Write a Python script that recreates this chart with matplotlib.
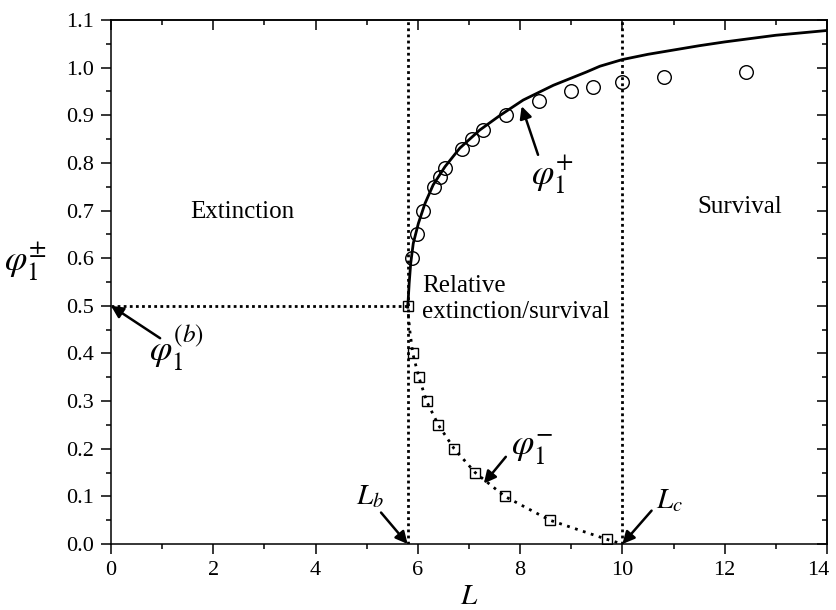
import numpy as np
from matplotlib import pyplot as plt
from matplotlib.ticker import MultipleLocator
from matplotlib.transforms import ScaledTranslation

plt.rcParams["font.family"] = "serif"
plt.rcParams["font.serif"] = ["Liberation Serif", "DejaVu Serif"]
plt.rcParams["mathtext.fontset"] = "stix"

# Threshold values
L_b = 5.8
L_c = 10.0
phi_b = 0.5

# Simulation points, upper branch (circles)
L_plus = [5.88, 5.98, 6.11, 6.32, 6.43, 6.54, 6.86, 7.05, 7.28, 7.72, 8.36, 8.99, 9.42, 10.0, 10.82, 12.41]
phi_plus = [0.60, 0.65, 0.70, 0.75, 0.77, 0.79, 0.83, 0.85, 0.87, 0.90, 0.93, 0.95, 0.96, 0.97, 0.98, 0.99]

# Simulation points, lower branch (squares)
L_minus = [5.81, 5.90, 6.02, 6.17, 6.40, 6.71, 7.12, 7.70, 8.58, 9.69]
phi_minus = [0.50, 0.40, 0.35, 0.30, 0.25, 0.20, 0.15, 0.10, 0.05, 0.01]

# Theory, upper branch
L_theory_plus = [5.80, 5.81, 5.83, 5.86, 5.91, 6.01, 6.14, 6.30, 6.53, 6.82, 7.21, 7.61, 8.06, 8.65,
                 9.30, 9.56, 10.0, 10.5, 11.0, 11.5, 12.0, 12.5, 13.0, 13.5, 14.0]
phi_theory_plus = [0.500, 0.510, 0.547, 0.589, 0.631, 0.673, 0.715, 0.754, 0.792, 0.831, 0.869, 0.900, 0.932, 0.963,
                   0.991, 1.003, 1.017, 1.028, 1.037, 1.046, 1.054, 1.061, 1.068, 1.073, 1.078]

# Theory, lower branch
L_theory_minus = [5.80, 5.84, 5.90, 6.02, 6.17, 6.40, 6.71, 7.12, 7.70, 8.58, 9.69, 10.0]
phi_theory_minus = [0.50, 0.45, 0.40, 0.35, 0.30, 0.25, 0.20, 0.15, 0.10, 0.05, 0.01, 0.0]

dots = (0, (1, 1.2))

fig = plt.figure(figsize=(8.36, 6.10), dpi=100)
ax = fig.add_axes([0.1328, 0.1082, 0.8564, 0.8590])

# Region boundaries
ax.plot([L_b, L_b], [0, 1.1], color="black", lw=2.0, linestyle=dots)
ax.plot([L_c, L_c], [0, 1.1], color="black", lw=2.0, linestyle=dots)
ax.plot([0, L_b], [phi_b, phi_b], color="black", lw=2.0, linestyle=dots)

# Theory curves
ax.plot(L_theory_plus, phi_theory_plus, color="black", lw=2.0)
ax.plot(L_theory_minus, phi_theory_minus, color="black", lw=2.0, linestyle=(0, (1, 2)))

# Simulation
ax.plot(L_plus, phi_plus, "o", mfc="none", mec="black", ms=9.8, mew=1.0)
ax.plot(L_minus, phi_minus, "s", mfc="none", mec="black", ms=7.4, mew=1.0)

ax.set_xlim(0, 14)
ax.set_ylim(0, 1.1)
ax.xaxis.set_major_locator(MultipleLocator(2))
ax.xaxis.set_minor_locator(MultipleLocator(1))
ax.yaxis.set_major_locator(MultipleLocator(0.1))
ax.yaxis.set_minor_locator(MultipleLocator(0.05))
ax.yaxis.set_major_formatter(plt.FormatStrFormatter("%.1f"))

ax.tick_params(which="both", direction="out", top=False, right=False, width=1.1, labelsize=16, pad=5)
ax.tick_params(which="major", length=7.2)
ax.tick_params(which="minor", length=3.6)
for s in ax.spines.values():
    s.set_linewidth(1.1)

# keep the "14" label inside the figure
locs = list(ax.xaxis.get_majorticklocs())
ticks = ax.xaxis.get_major_ticks(len(locs))
i14 = int(np.argmin(np.abs(np.array(locs) - 14)))
lab = ticks[i14].label1
lab.set_transform(lab.get_transform() + ScaledTranslation(-6 / 72, 0, fig.dpi_scale_trans))

# Inward ticks on top and right
for pos in ["top", "right"]:
    sec = ax.secondary_xaxis("top") if pos == "top" else ax.secondary_yaxis("right")
    axis = sec.xaxis if pos == "top" else sec.yaxis
    axis.set_major_locator(MultipleLocator(2 if pos == "top" else 0.1))
    axis.set_minor_locator(MultipleLocator(1 if pos == "top" else 0.05))
    sec.tick_params(which="both", direction="in", width=1.1, labelbottom=False, labeltop=False,
                    labelleft=False, labelright=False)
    sec.tick_params(which="major", length=7.2)
    sec.tick_params(which="minor", length=3.6)
    sec.spines[pos].set_linewidth(1.1)

ax.set_xlabel(r"$L$", fontsize=21)
ax.xaxis.set_label_coords(0.5, -0.076)
ax.set_ylabel(r"$\varphi_1^{\pm}$", fontsize=26, rotation=0, va="center", ha="center")
ax.yaxis.set_label_coords(-0.12, 0.538)

# Region names
ax.text(2.56, 0.696, "Extinction", fontsize=18, ha="center", va="center")
ax.text(12.30, 0.708, "Survival", fontsize=18, ha="center", va="center")
ax.text(6.09, 0.515, "Relative\nextinction/survival", fontsize=18, ha="left", va="center", linespacing=1.25)

# Arrows and symbols
arrow = dict(arrowstyle="-|>", color="black", lw=1.8, mutation_scale=18, shrinkA=0, shrinkB=0)
ax.annotate("", xy=(0, phi_b), xytext=(0.96, 0.432), arrowprops=arrow, annotation_clip=False)
ax.text(0.74, 0.41, r"$\varphi_1^{(b)}$", fontsize=26, ha="left", va="center")

ax.annotate("", xy=(8.03, 0.919), xytext=(8.35, 0.817), arrowprops=arrow)
ax.text(8.21, 0.773, r"$\varphi_1^{+}$", fontsize=26, ha="left", va="center")

ax.annotate("", xy=(7.29, 0.127), xytext=(7.72, 0.183), arrowprops=arrow)
ax.text(7.83, 0.197, r"$\varphi_1^{-}$", fontsize=26, ha="left", va="center")

ax.annotate("", xy=(L_c, 0), xytext=(10.57, 0.07), arrowprops=arrow, annotation_clip=False)
ax.text(10.65, 0.092, r"$L_c$", fontsize=21, ha="left", va="center")

ax.annotate("", xy=(L_b, 0), xytext=(5.28, 0.066), arrowprops=arrow, annotation_clip=False)
ax.text(4.80, 0.099, r"$L_b$", fontsize=21, ha="left", va="center")

plt.savefig("out.png", dpi=100)
